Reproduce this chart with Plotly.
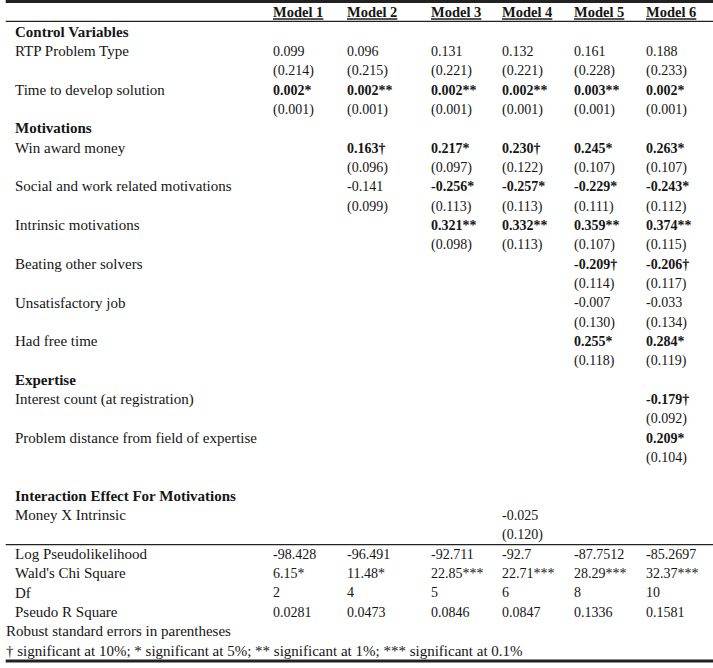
import plotly.graph_objects as go

models = ["Model 1", "Model 2", "Model 3", "Model 4", "Model 5", "Model 6"]

# coefficient, significance marker, robust s.e. (None = variable not in model)
rtp_coef = [0.099, 0.096, 0.131, 0.132, 0.161, 0.188]
rtp_sig = ["", "", "", "", "", ""]
rtp_se = [0.214, 0.215, 0.221, 0.221, 0.228, 0.233]

time_coef = [0.002, 0.002, 0.002, 0.002, 0.003, 0.002]
time_sig = ["*", "**", "**", "**", "**", "*"]
time_se = [0.001, 0.001, 0.001, 0.001, 0.001, 0.001]

award_coef = [None, 0.163, 0.217, 0.230, 0.245, 0.263]
award_sig = [None, "†", "*", "†", "*", "*"]
award_se = [None, 0.096, 0.097, 0.122, 0.107, 0.107]

social_coef = [None, -0.141, -0.256, -0.257, -0.229, -0.243]
social_sig = [None, "", "*", "*", "*", "*"]
social_se = [None, 0.099, 0.113, 0.113, 0.111, 0.112]

intrinsic_coef = [None, None, 0.321, 0.332, 0.359, 0.374]
intrinsic_sig = [None, None, "**", "**", "**", "**"]
intrinsic_se = [None, None, 0.098, 0.113, 0.107, 0.115]

beating_coef = [None, None, None, None, -0.209, -0.206]
beating_sig = [None, None, None, None, "†", "†"]
beating_se = [None, None, None, None, 0.114, 0.117]

unsat_coef = [None, None, None, None, -0.007, -0.033]
unsat_sig = [None, None, None, None, "", ""]
unsat_se = [None, None, None, None, 0.130, 0.134]

freetime_coef = [None, None, None, None, 0.255, 0.284]
freetime_sig = [None, None, None, None, "*", "*"]
freetime_se = [None, None, None, None, 0.118, 0.119]

interest_coef = [None, None, None, None, None, -0.179]
interest_sig = [None, None, None, None, None, "†"]
interest_se = [None, None, None, None, None, 0.092]

distance_coef = [None, None, None, None, None, 0.209]
distance_sig = [None, None, None, None, None, "*"]
distance_se = [None, None, None, None, None, 0.104]

money_x_coef = [None, None, None, -0.025, None, None]
money_x_sig = [None, None, None, "", None, None]
money_x_se = [None, None, None, 0.120, None, None]

log_pseudolik = [-98.428, -96.491, -92.711, -92.7, -87.7512, -85.2697]
wald_chi2 = [6.15, 11.48, 22.85, 22.71, 28.29, 32.37]
wald_sig = ["*", "*", "***", "***", "***", "***"]
df_vals = [2, 4, 5, 6, 8, 10]
pseudo_r2 = [0.0281, 0.0473, 0.0846, 0.0847, 0.1336, 0.1581]

notes = ["Robust standard errors in parentheses",
         "† significant at 10%; * significant at 5%; ** significant at 1%; *** significant at 0.1%"]

# layout constants (pixels)
W, H = 713, 668
ROW_H = 19.34
FIRST_ROW_Y = 33
LABEL_X = 15
NOTE_X = 6
COL_X = [273, 347, 431, 502, 574, 646]

sections = [
    ("Control Variables", [
        ("RTP Problem Type", rtp_coef, rtp_sig, rtp_se),
        ("Time to develop solution", time_coef, time_sig, time_se)]),
    ("Motivations", [
        ("Win award money", award_coef, award_sig, award_se),
        ("Social and work related motivations", social_coef, social_sig, social_se),
        ("Intrinsic motivations", intrinsic_coef, intrinsic_sig, intrinsic_se),
        ("Beating other solvers", beating_coef, beating_sig, beating_se),
        ("Unsatisfactory job", unsat_coef, unsat_sig, unsat_se),
        ("Had free time", freetime_coef, freetime_sig, freetime_se)]),
    ("Expertise", [
        ("Interest count (at registration)", interest_coef, interest_sig, interest_se),
        ("Problem distance from field of expertise", distance_coef, distance_sig, distance_se)]),
    (None, []),   # empty spacer row
    ("Interaction Effect For Motivations", [
        ("Money X Intrinsic", money_x_coef, money_x_sig, money_x_se)]),
]

lab_x, lab_y, lab_t = [], [], []
cell_x, cell_y, cell_t = [], [], []

row = 0
for head, variables in sections:
    if head is not None:
        lab_x.append(LABEL_X); lab_y.append(row); lab_t.append("<b>" + head + "</b>")
    row += 1
    for name, coef, sig, se in variables:
        lab_x.append(LABEL_X); lab_y.append(row); lab_t.append(name)
        for j in range(len(models)):
            if coef[j] is None:
                continue
            txt = f"{coef[j]:.3f}{sig[j]}"
            if sig[j]:
                txt = "<b>" + txt + "</b>"
            cell_x.append(COL_X[j]); cell_y.append(row); cell_t.append(txt)
            cell_x.append(COL_X[j]); cell_y.append(row + 1); cell_t.append(f"({se[j]:.3f})")
        row += 2

stats_top = row
stats = [
    ("Log Pseudolikelihood", [str(v) for v in log_pseudolik]),
    ("Wald's Chi Square", [f"{v:.2f}{s}" for v, s in zip(wald_chi2, wald_sig)]),
    ("Df", [str(v) for v in df_vals]),
    ("Pseudo R Square", [f"{v:.4f}" for v in pseudo_r2]),
]
for name, vals in stats:
    lab_x.append(LABEL_X); lab_y.append(row); lab_t.append(name)
    for j, v in enumerate(vals):
        cell_x.append(COL_X[j]); cell_y.append(row); cell_t.append(v)
    row += 1

for n in notes:
    lab_x.append(NOTE_X); lab_y.append(row); lab_t.append(n)
    row += 1
last_row = row - 1

head_x, head_y, head_t = [], [], []
for j, m in enumerate(models):
    head_x.append(COL_X[j]); head_y.append(-1); head_t.append("<b><u>" + m + "</u></b>")

ink = "#151515"

fig = go.Figure()
fig.add_trace(go.Scatter(x=lab_x, y=lab_y, text=lab_t, mode="text",
                         textposition="middle right",
                         textfont=dict(family="Liberation Serif", size=15, color=ink),
                         hoverinfo="skip", showlegend=False))
fig.add_trace(go.Scatter(x=cell_x, y=cell_y, text=cell_t, mode="text",
                         textposition="middle right",
                         textfont=dict(family="Liberation Serif", size=14, color=ink),
                         hoverinfo="skip", showlegend=False))
fig.add_trace(go.Scatter(x=head_x, y=head_y, text=head_t, mode="text",
                         textposition="middle right",
                         textfont=dict(family="Liberation Serif", size=14.5, color=ink),
                         hoverinfo="skip", showlegend=False))

# horizontal rules, in row units
rules = [(-1.63, 3), (-0.60, 1.2), (stats_top - 0.55, 1.2), (last_row + 0.47, 3)]
for yy, lw in rules:
    fig.add_shape(type="line", xref="paper", x0=0.008, x1=1, yref="y", y0=yy, y1=yy,
                  line=dict(color="#222222", width=lw))

fig.update_layout(
    width=W, height=H,
    margin=dict(l=0, r=0, t=0, b=0),
    paper_bgcolor="white", plot_bgcolor="white",
    xaxis=dict(range=[0, W], visible=False, fixedrange=True),
    yaxis=dict(range=[(H - FIRST_ROW_Y) / ROW_H, -FIRST_ROW_Y / ROW_H],
               visible=False, fixedrange=True),
)

fig.write_html("out.html", config={"displayModeBar": False},
               post_script="document.body.style.margin='0';")
